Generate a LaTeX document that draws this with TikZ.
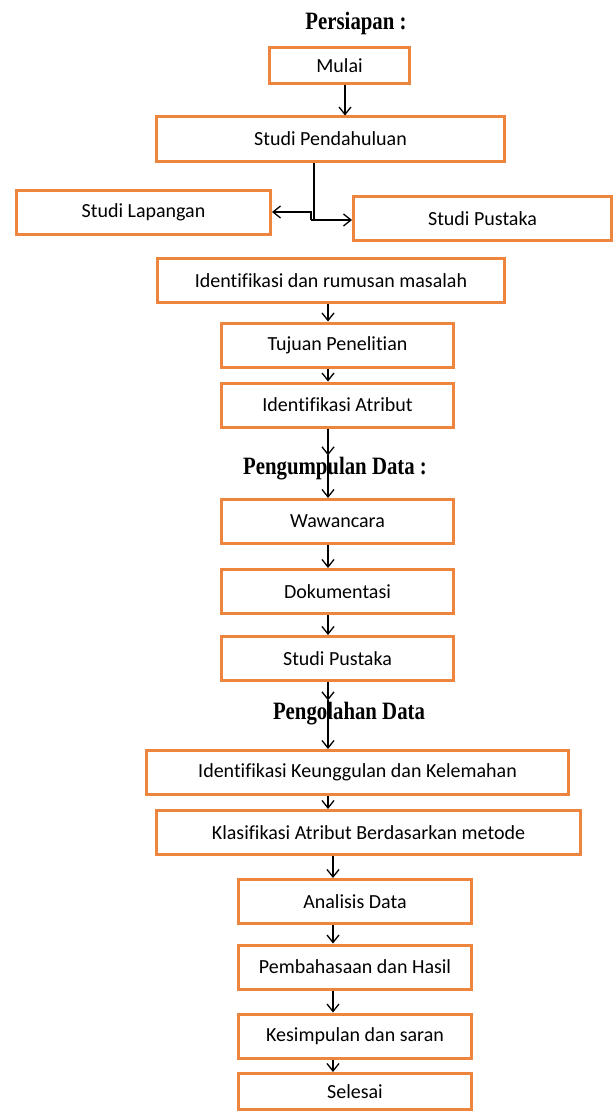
\documentclass[tikz,border=0pt]{standalone}
\usepackage{fontspec}
\setmainfont{Carlito}[Ligatures=CommonOff]
\newfontfamily\titlefont{Liberation Serif}
\usepackage{xcolor}
\usetikzlibrary{positioning,arrows.meta,calc}
\definecolor{boxorange}{RGB}{237,133,62}
\newcommand\tallish[1]{\scalebox{1}[1.2]{#1}}

\begin{document}
\begin{tikzpicture}[x=1pt, y=-1pt,
    box/.style={rectangle, draw=boxorange, line width=3pt, minimum height=44pt, inner sep=0pt, font=\fontsize{20}{24}\selectfont},
    phase/.style={font=\titlefont\bfseries\fontsize{20.8}{24}\selectfont, inner sep=2pt},
    link/.style={-{Straight Barb[length=7.5pt,width=12pt]}, line width=1.3pt}]
    \useasboundingbox (0,0) rectangle (614,1113);
    \coordinate (colTop) at (345,0);
    \coordinate (colMid) at (328,0);
    \coordinate (colLow) at (333,0);

    % Persiapan
    \node (persiapan) [phase] at (356,23) {\tallish{Persiapan :}};
    \node (mulai) [box, minimum width=140pt, minimum height=36pt] at (339.5,65.5) {Mulai};
    \node (pendahuluan) [box, minimum width=348pt] at (330.5,139) {Studi Pendahuluan};
    \node (lapangan) [box, minimum width=254pt] at (143.5,212) {Studi Lapangan};
    \node (pustaka1) [box, minimum width=258pt] at (482.5,218.5) {Studi Pustaka};
    \coordinate (fork) at (314,220);
    \coordinate (forkL) at (311,220);
    \draw [link] (mulai.south -| colTop) -- (pendahuluan.north -| colTop);
    \draw [line width=1.3pt] (pendahuluan.south -| fork) -- (fork);
    \draw [link] (forkL) -- (forkL -| pustaka1.west);
    \draw [link] (forkL) |- (lapangan.east);

    \node (masalah) [box, minimum width=347pt] at (331,280.5) {Identifikasi dan rumusan masalah};
    \node (tujuan) [box, minimum width=232pt] at (337.5,345) {Tujuan Penelitian};
    \node (atribut) [box, minimum width=232pt] at (337.5,405) {Identifikasi Atribut};
    \draw [link] (masalah.south -| colMid) -- (tujuan.north -| colMid);
    \draw [link] (tujuan.south -| colMid) -- (atribut.north -| colMid);

    % Pengumpulan Data
    \node (pengumpulan) [phase] at (335,469) {\tallish{Pengumpulan Data :}};
    \node (wawancara) [box, minimum width=232pt] at (337.5,521.5) {Wawancara};
    \node (dokumentasi) [box, minimum width=232pt] at (337.5,591.5) {Dokumentasi};
    \node (pustaka2) [box, minimum width=232pt] at (337.5,658.5) {Studi Pustaka};
    \draw [link] (atribut.south -| colMid) -- (pengumpulan.north -| colMid);
    \draw [link] (pengumpulan.north -| colMid) -- (wawancara.north -| colMid);
    \draw [link] (wawancara.south -| colMid) -- (dokumentasi.north -| colMid);
    \draw [link] (dokumentasi.south -| colMid) -- (pustaka2.north -| colMid);

    % Pengolahan Data
    \node (pengolahan) [phase] at (349,714) {\tallish{Pengolahan Data}};
    \node (keunggulan) [box, minimum width=422pt] at (357.5,772.5) {Identifikasi Keunggulan dan Kelemahan};
    \node (klasifikasi) [box, minimum width=424pt] at (368.5,832.5) {Klasifikasi Atribut Berdasarkan metode};
    \node (analisis) [box, minimum width=233pt] at (355,901.5) {Analisis Data};
    \node (pembahasan) [box, minimum width=233pt] at (355,967) {Pembahasaan dan Hasil};
    \node (kesimpulan) [box, minimum width=233pt] at (355,1036) {Kesimpulan dan saran};
    \node (selesai) [box, minimum width=233pt, minimum height=36pt] at (355,1091.5) {Selesai};
    \draw [link] (pustaka2.south -| colMid) -- (pengolahan.north -| colMid);
    \draw [link] (pengolahan.north -| colMid) -- (keunggulan.north -| colMid);
    \draw [link] (keunggulan.south -| colMid) -- (klasifikasi.north -| colMid);
    \draw [link] (klasifikasi.south -| colLow) -- (analisis.north -| colLow);
    \draw [link] (analisis.south -| colLow) -- (pembahasan.north -| colLow);
    \draw [link] (pembahasan.south -| colLow) -- (kesimpulan.north -| colLow);
    \draw [link] (kesimpulan.south -| colLow) -- (selesai.north -| colLow);
\end{tikzpicture}
\end{document}
